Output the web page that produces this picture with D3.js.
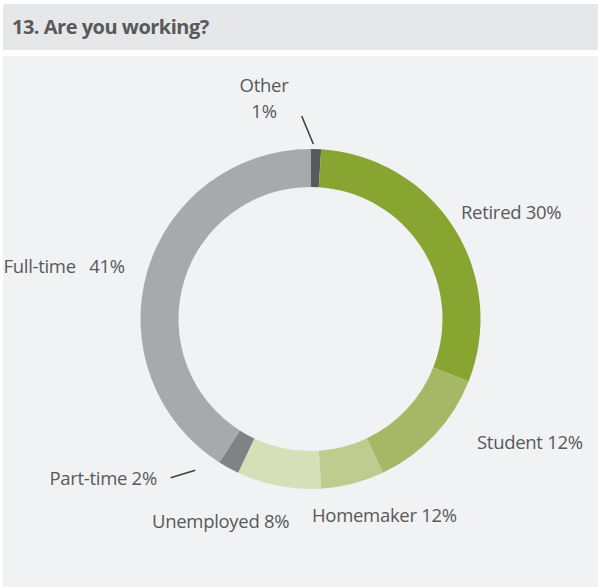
<!DOCTYPE html>
<html>
<head>
<meta charset="utf-8">
<script src="https://cdn.jsdelivr.net/npm/d3@7"></script>
<style>
  html, body { margin: 0; padding: 0; background: #ffffff; }
  svg { display: block; }
</style>
</head>
<body>
<svg id="chart" width="598" height="587"></svg>
<script>
// ---- data ----
const title = "13. Are you working?";
const categories = ["Other", "Retired", "Student", "Homemaker", "Unemployed", "Part-time", "Full-time"];
// arc shares as drawn in the picture (percent)
const values = [1, 30, 12, 6, 8, 2, 41];
// label texts as printed in the picture
const labelLines = [["Other", "1%"], ["Retired 30%"], ["Student 12%"], ["Homemaker 12%"], ["Unemployed 8%"], ["Part-time 2%"], ["Full-time\u00a0\u00a0 41%"]];

// ---- styles / layout ----
const colors = ["#58595b", "#88a532", "#a6b866", "#bfcc8f", "#d6dfb8", "#808285", "#a7a9ac"];
const textColor = "#58595b";
const font = "'Open Sans', 'DejaVu Sans', sans-serif";
const cx = 310.5, cy = 319, rOuter = 170, rInner = 132;
const labelLayout = {
  "Other":      { x: 264, y: 92, anchor: "middle", lineH: 26, leader: [[301.7, 116], [313.3, 144]] },
  "Retired":    { x: 461, y: 218.5, anchor: "start" },
  "Student":    { x: 477, y: 448.5, anchor: "start" },
  "Homemaker":  { x: 312, y: 521.5, anchor: "start" },
  "Unemployed": { x: 152, y: 527.5, anchor: "start" },
  "Part-time":  { x: 49.5, y: 485, anchor: "start", leader: [[170.7, 477.7], [195.3, 470.3]] },
  "Full-time":  { x: 3.5, y: 272.5, anchor: "start" }
};

const svg = d3.select("#chart");

// title bar
svg.append("rect").attr("x", 3).attr("y", 4).attr("width", 595).attr("height", 46).attr("fill", "#e6e7e8");
svg.append("text").attr("x", 12).attr("y", 33.5)
  .attr("font-family", font).attr("font-weight", 700).attr("font-size", 20)
  .attr("letter-spacing", -0.5)
  .attr("fill", textColor).text(title);

// panel
svg.append("rect").attr("x", 3).attr("y", 56).attr("width", 595).attr("height", 531).attr("fill", "#f1f2f3");

const data = categories.map((c, i) => ({ category: c, value: values[i], color: colors[i], lines: labelLines[i] }));

const pie = d3.pie().sort(null).value(d => d.value).startAngle(0).endAngle(2 * Math.PI);
const arc = d3.arc().innerRadius(rInner).outerRadius(rOuter);

const g = svg.append("g").attr("transform", `translate(${cx},${cy})`);
g.selectAll("path").data(pie(data)).join("path")
  .attr("d", arc)
  .attr("fill", d => d.data.color);

// labels
const labels = svg.append("g");
data.forEach(d => {
  const L = labelLayout[d.category];
  const t = labels.append("text")
    .attr("font-family", font).attr("font-size", 18.5)
    .attr("letter-spacing", -0.3)
    .attr("fill", textColor).attr("text-anchor", L.anchor);
  d.lines.forEach((line, i) => {
    t.append("tspan").attr("x", L.x).attr("y", L.y + i * (L.lineH || 0)).text(line);
  });
  if (L.leader) {
    labels.append("line")
      .attr("x1", L.leader[0][0]).attr("y1", L.leader[0][1])
      .attr("x2", L.leader[1][0]).attr("y2", L.leader[1][1])
      .attr("stroke", "#3f4042").attr("stroke-width", 1.6);
  }
});
</script>
</body>
</html>
